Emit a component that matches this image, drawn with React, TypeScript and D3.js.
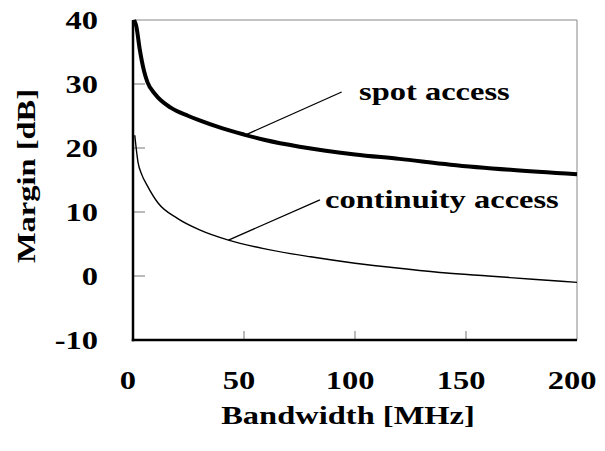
import React from "react";
import * as d3 from "d3";

// Bandwidth [MHz] sample points
const bandwidthSpot = [0.5, 1.5, 3, 5, 6.5, 10, 17, 25, 30, 40, 50, 60, 75, 100, 120, 143, 170, 200];
const spotAccess = [40, 39, 35.5, 32, 30.3, 28.4, 26.3, 25, 24.3, 23.1, 22.1, 21.2, 20.2, 19, 18.3, 17.4, 16.6, 15.9];

const bandwidthCont = [0.8, 2.25, 4, 6.3, 11.3, 20, 30, 43, 60, 80, 100, 120, 140, 160, 180, 200];
const continuityAccess = [22, 17.8, 15.8, 14.2, 11.4, 9, 7.2, 5.6, 4.2, 3, 2, 1.2, 0.5, 0, -0.5, -1];

const xTicks = [0, 50, 100, 150, 200];
const yTicks = [-10, 0, 10, 20, 30, 40];

// annotations (data units): curve point, line end, text anchor
const annotationLabels = ["spot access", "continuity access"];
const annotationFrom = [[51, 22.1], [43, 5.6]];
const annotationTo = [[94, 28.75], [84.2, 11.9]];
const annotationText = [[101.8, 27.5], [86.5, 10.6]];

const W = 605;
const H = 451;
const M = { left: 133, right: 577, top: 20, bottom: 340 };

const FONT = "'Liberation Serif', 'Times New Roman', serif";
const SX = 1.3;

function SText({ x, y, anchor = "start", rotate = 0, children }: any) {
  return (
    <g transform={`translate(${x},${y})${rotate ? ` rotate(${rotate})` : ""} scale(${SX},1)`}>
      <text textAnchor={anchor} fontFamily={FONT} fontWeight="bold" fontSize={25} fill="#000">
        {children}
      </text>
    </g>
  );
}

export default function App() {
  const x = d3.scaleLinear().domain([0, 200]).range([M.left, M.right]);
  const y = d3.scaleLinear().domain([-10, 40]).range([M.bottom, M.top]);

  const line = d3
    .line<[number, number]>()
    .x((d) => x(d[0]))
    .y((d) => y(d[1]))
    .curve(d3.curveMonotoneX);

  const spotPts = bandwidthSpot.map((b, i) => [b, spotAccess[i]] as [number, number]);
  const contPts = bandwidthCont.map((b, i) => [b, continuityAccess[i]] as [number, number]);

  return (
    <svg
      width={W}
      height={H}
      style={{ position: "fixed", left: 0, top: 0, background: "#fff" }}
    >
      <rect x={0} y={0} width={W} height={H} fill="#fff" />
      {/* frame: top and right thin gray */}
      <line x1={x(0)} x2={x(200)} y1={y(40)} y2={y(40)} stroke="#888" strokeWidth={1} />
      <line x1={x(200)} x2={x(200)} y1={y(40)} y2={y(-10)} stroke="#888" strokeWidth={1} />
      {/* y ticks */}
      {yTicks
        .filter((t) => t > -10 && t < 40)
        .map((t) => (
          <line key={"yt" + t} x1={x(0)} x2={x(0) + 12} y1={y(t)} y2={y(t)} stroke="#777" strokeWidth={1} />
        ))}
      {/* x ticks */}
      {xTicks
        .filter((t) => t > 0 && t < 200)
        .map((t) => (
          <line key={"xt" + t} x1={x(t)} x2={x(t)} y1={y(-10)} y2={y(-10) - 9} stroke="#777" strokeWidth={1} />
        ))}
      {/* curves */}
      <path d={line(contPts) || ""} fill="none" stroke="#000" strokeWidth={1.4} />
      <path d={line(spotPts) || ""} fill="none" stroke="#000" strokeWidth={4} strokeLinejoin="round" />
      {/* axes: left and bottom thick */}
      <line x1={x(0)} x2={x(0)} y1={y(40)} y2={y(-10) + 1.25} stroke="#000" strokeWidth={2.5} />
      <line x1={x(0) - 1.25} x2={x(200)} y1={y(-10)} y2={y(-10)} stroke="#000" strokeWidth={2.5} />
      {/* annotations */}
      {annotationLabels.map((lab, i) => (
        <g key={lab}>
          <line
            x1={x(annotationFrom[i][0])}
            y1={y(annotationFrom[i][1])}
            x2={x(annotationTo[i][0])}
            y2={y(annotationTo[i][1])}
            stroke="#000"
            strokeWidth={1.3}
          />
          <SText x={x(annotationText[i][0])} y={y(annotationText[i][1])}>
            {lab}
          </SText>
        </g>
      ))}
      {/* y tick labels */}
      {yTicks.map((t) => (
        <SText key={"yl" + t} x={98} y={y(t) + 8.5} anchor="end">
          {String(t)}
        </SText>
      ))}
      {/* x tick labels */}
      {xTicks.map((t) => (
        <SText key={"xl" + t} x={x(t) - 5} y={389} anchor="middle">
          {String(t)}
        </SText>
      ))}
      {/* axis titles */}
      <SText x={(M.left + M.right) / 2 - 7} y={424} anchor="middle">
        Bandwidth [MHz]
      </SText>
      <SText x={35} y={176} anchor="middle" rotate={-90}>
        Margin [dB]
      </SText>
    </svg>
  );
}
